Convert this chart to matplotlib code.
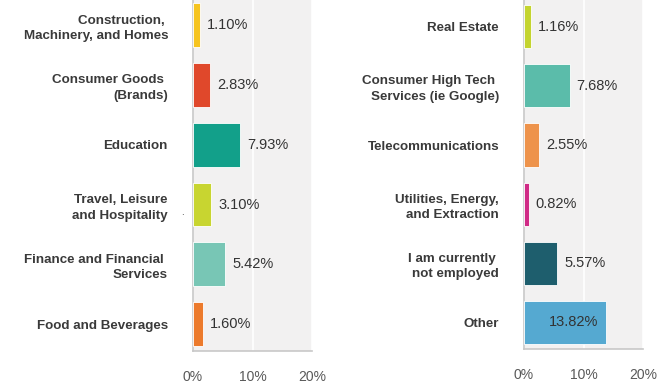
import matplotlib
matplotlib.use("Agg")
import matplotlib.pyplot as plt
import numpy as np

plt.rcParams['font.family'] = ['Liberation Sans', 'DejaVu Sans']

left_labels = ["Construction, \nMachinery, and Homes", "Consumer Goods \n(Brands)", "Education",
               "Travel, Leisure\nand Hospitality", "Finance and Financial \nServices", "Food and Beverages"]
left_values = [1.10, 2.83, 7.93, 3.10, 5.42, 1.60]
left_colors = ["#f6c41f", "#e0482b", "#12a08a", "#c8d530", "#78c6b5", "#ec7a2c"]

right_labels = ["Real Estate", "Consumer High Tech \nServices (ie Google)", "Telecommunications",
                "Utilities, Energy,\nand Extraction", "I am currently \nnot employed", "Other"]
right_values = [1.16, 7.68, 2.55, 0.82, 5.57, 13.82]
right_colors = ["#c4d42f", "#5bbcaa", "#ee934b", "#d02a86", "#1e5e6d", "#55a9d1"]

xticks = [0, 10, 20]
xticklabels = ["0%", "10%", "20%"]

W, H = 664, 390
fig = plt.figure(figsize=(W / 100, H / 100), dpi=100)
fig.patch.set_facecolor("white")


def panel(x0, labels, values, colors, shift):
    ax = fig.add_axes([x0 / W, (H - 351 + shift) / H, 119 / W, (351 - shift) / H])
    ax.set_facecolor("#f2f1f1")
    y = np.arange(len(values))
    ax.barh(y, values, height=0.73, color=colors, edgecolor="#ffffff", linewidth=0.6, zorder=3)
    ax.set_xlim(0, 20)
    ax.set_ylim(5.45, -0.42 - shift / 60)
    ax.set_xticks(xticks)
    ax.set_xticklabels(xticklabels)
    ax.xaxis.grid(True, color="white", linewidth=1.2, zorder=1)
    ax.set_axisbelow(True)
    ax.set_yticks(y)
    ax.set_yticklabels(labels, fontsize=9.6, fontweight="bold", color="#3a3a3a", linespacing=1.4)
    ax.tick_params(axis="y", length=0, pad=18)
    ax.tick_params(axis="x", length=0, pad=14, labelsize=10, labelcolor="#595959")
    for s in ["top", "right"]:
        ax.spines[s].set_visible(False)
    for s in ["left", "bottom"]:
        ax.spines[s].set_color("#c8c8c8")
        ax.spines[s].set_linewidth(1.2)
    for yi, v in zip(y, values):
        if v > 12:
            ax.annotate(f"{v:.2f}%", (v, yi), xytext=(-6, 0), textcoords="offset points",
                        ha="right", va="center", fontsize=10.5, color="#333333", zorder=4)
        else:
            ax.annotate(f"{v:.2f}%", (v, yi), xytext=(5, 0), textcoords="offset points",
                        ha="left", va="center", fontsize=10.5, color="#333333", zorder=4)
    return ax


panel(193, left_labels, left_values, left_colors, 0)
panel(524, right_labels, right_values, right_colors, 2)

fig.text(182 / W, 1 - 217 / H, ".", fontsize=7, color="#333333", ha="center", va="bottom")

fig.savefig("out.png", dpi=100)
